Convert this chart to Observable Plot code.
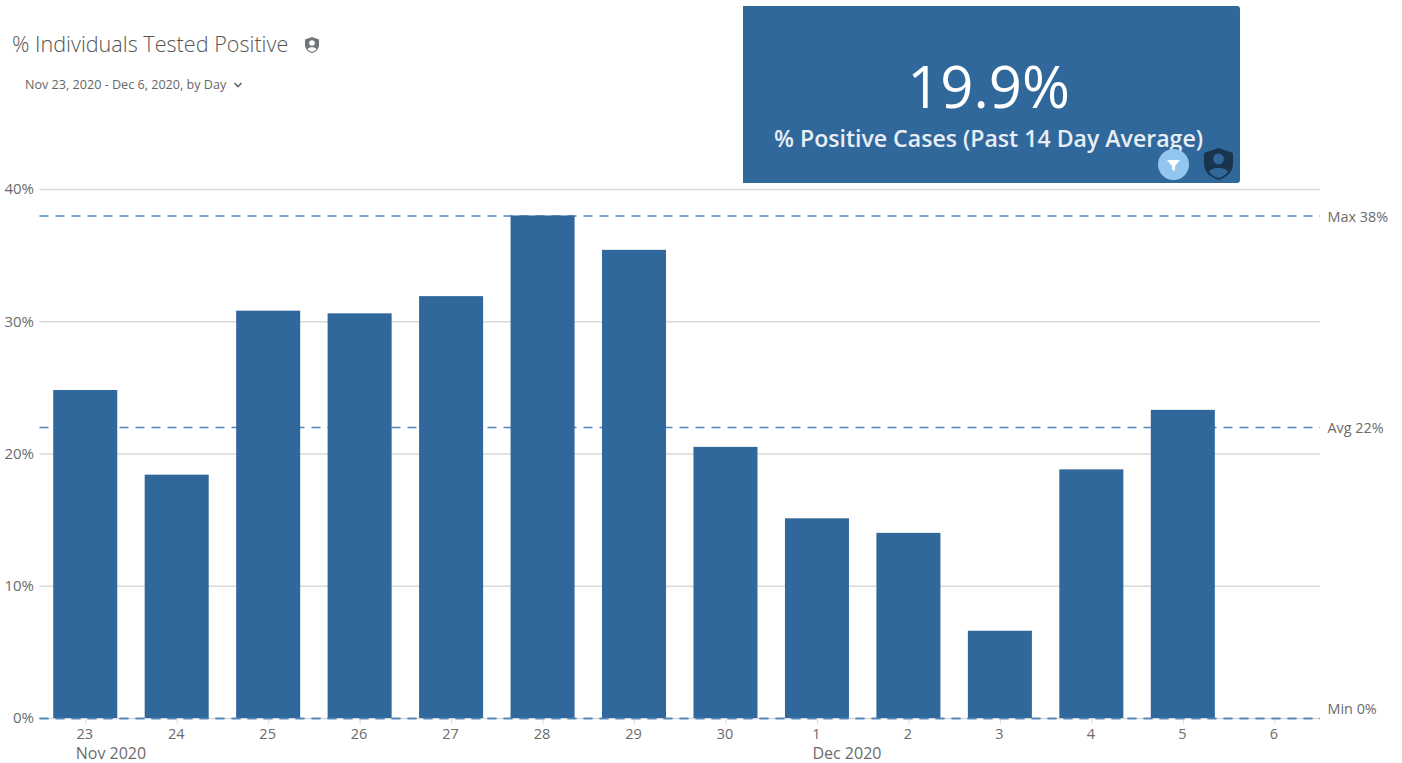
<!DOCTYPE html>
<html><head><meta charset="utf-8">
<script src="https://cdn.jsdelivr.net/npm/d3@7"></script>
<script src="https://cdn.jsdelivr.net/npm/@observablehq/plot@0.6"></script>
<style>
html,body{margin:0;padding:0;background:#fff;overflow:hidden}
body{width:1402px;height:763px;position:relative;font-family:"Open Sans",sans-serif}
#chart{position:absolute;left:0;top:0}
#title{position:absolute;left:12px;top:30px;font-size:21.6px;font-weight:300;line-height:28px;color:#555;white-space:nowrap}
#sub{position:absolute;left:25px;top:76px;font-size:12.6px;line-height:18px;color:#666;white-space:nowrap}
#card{position:absolute;left:743px;top:6px;width:497px;height:177px;background:#31689b;border-top-right-radius:3px;border-bottom-right-radius:3px;color:#fff;overflow:hidden}
#kpi{position:absolute;left:0;width:491px;top:47px;text-align:center;font-size:58px;line-height:66px;font-weight:400;color:#fff}
#kpil{position:absolute;left:0;width:491px;top:117px;text-align:center;font-size:23.1px;line-height:30px;font-weight:600;color:#e8eef5;white-space:nowrap}
svg.ic{position:absolute}
</style></head><body>
<div id="chart"></div>
<div id="title">% Individuals Tested Positive</div>
<svg class="ic" style="left:303px;top:36px" width="18" height="18" viewBox="0 0 18 18"><path d="M9 1 L16 3.5 V9 C16 13 13 16 9 17 C5 16 2 13 2 9 V3.5 Z" fill="#6f7478"/><circle cx="9" cy="7" r="2.8" fill="#fff"/><path d="M4.5 13 C5.5 10.6 12.5 10.6 13.5 13 C12 15 10.5 15.6 9 15.8 C7.5 15.6 6 15 4.5 13Z" fill="#fff"/></svg>
<div id="sub">Nov 23, 2020 - Dec 6, 2020, by Day</div>
<svg class="ic" style="left:233px;top:81px" width="10" height="8" viewBox="0 0 10 8"><path d="M1.5 2 L5 5.5 L8.5 2" fill="none" stroke="#666" stroke-width="1.6"/></svg>
<div id="card">
<div id="kpi">19.9%</div>
<div id="kpil">% Positive Cases (Past 14 Day Average)</div>
<svg class="ic" style="left:415px;top:143px" width="31" height="31" viewBox="0 0 31 31"><circle cx="15.5" cy="15.5" r="15.5" fill="#93c6ee"/><path d="M9 11 H22 L17 17 V22 L14 20.5 V17 Z" fill="#fff"/></svg>
<svg class="ic" style="left:459px;top:140px" width="33" height="35" viewBox="0 0 33 35"><path d="M16.5 2 L31 7 V18 C31 26 25 31 16.5 34 C8 31 2 26 2 18 V7 Z" fill="#18344f"/><circle cx="16.5" cy="13" r="5.4" fill="#31689b"/><path d="M7 26 C9 20.5 24 20.5 26 26 C23 29.5 20 31 16.5 32 C13 31 10 29.5 7 26Z" fill="#31689b"/></svg>
</div>
<script>
const days = ["23","24","25","26","27","28","29","30","1","2","3","4","5","6"];
const positive = [24.8,18.4,30.8,30.6,31.9,38,35.4,20.5,15.1,14,6.6,18.8,23.3,null];
const yTicks = [0,10,20,30,40];
const refValues = [38,22,0];
const refLabels = ["Max 38%","Avg 22%","Min 0%"];
const monthDays = ["23","1"];
const monthLabels = ["Nov 2020","Dec 2020"];

const rows = days.map((d,i)=>({d,v:positive[i]})).filter(r=>r.v!=null);
const refs = refValues.map((v,i)=>({v,label:refLabels[i]}));
const grey = "#6b6b6b";
const dash = "#4f86bd";
const font = "Open Sans, sans-serif";
const refText = (data,dy)=>Plot.text(data,{y:"v",text:"label",frameAnchor:"right",textAnchor:"start",lineAnchor:"middle",dx:7,dy,fill:grey,fontSize:14.4});
const monthText = (i,dx)=>Plot.text([{d:monthDays[i],label:monthLabels[i]}],{x:"d",text:"label",frameAnchor:"bottom",textAnchor:"start",lineAnchor:"middle",dx,dy:35,fill:grey,fontSize:16});

const plot = Plot.plot({
  width:1402, height:763,
  marginLeft:39.5, marginRight:82, marginTop:189, marginBottom:45,
  style:{fontFamily:font,fontSize:"15px",color:grey,background:"transparent"},
  x:{type:"band",domain:days,paddingInner:0.3,paddingOuter:0.15,align:0.5,round:false,label:null},
  y:{domain:[0,40],label:null},
  marks:[
    Plot.ruleY(yTicks,{stroke:"#d9d9d9",strokeWidth:1.5,strokeOpacity:1}),
    Plot.axisX({tickSize:6,stroke:"#d9d9d9",text:null,label:null}),
    Plot.axisX({tickSize:0,tickPadding:10,dx:-1,fill:grey,fontSize:14.5,label:null}),
    Plot.axisY({ticks:yTicks,tickSize:0,tickPadding:6,tickFormat:d=>d+"%",fill:grey,fontSize:15,label:null}),
    Plot.ruleY(refs,{y:"v",stroke:dash,strokeWidth:1.5,strokeDasharray:"9 7"}),
    Plot.barY(rows,{x:"d",y:"v",fill:"#31689b"}),
    Plot.ruleY([0],{stroke:dash,strokeWidth:1.5,strokeDasharray:"9 7"}),
    refText(refs.slice(0,2),1),
    refText(refs.slice(2),-9),
    monthText(0,-10),
    monthText(1,-5)
  ]
});
document.getElementById("chart").append(plot);
</script>
</body></html>
